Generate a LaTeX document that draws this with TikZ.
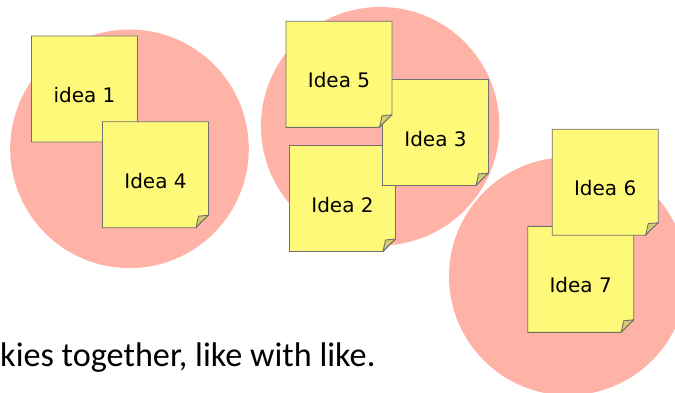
\documentclass[tikz,border=0pt]{standalone}
\usepackage{fontspec}
\setmainfont{DejaVu Sans}
\newfontfamily\capfont{Carlito}
\usetikzlibrary{calc}
\definecolor{blob}{RGB}{255,179,167}
\definecolor{notefill}{RGB}{255,249,122}
\definecolor{noteline}{RGB}{112,112,112}
\definecolor{foldfill}{RGB}{212,206,106}
\tikzset{
  group/.style={circle, fill=blob, draw=none, inner sep=0pt, outer sep=0pt},
  notebody/.style={fill=notefill, draw=noteline, line width=0.9pt, line join=miter},
  notefold/.style={fill=foldfill, draw=noteline, line width=0.9pt, line join=round},
  notetext/.style={inner sep=0pt, font=\fontsize{20}{24}\selectfont, anchor=base},
  caption/.style={inner sep=0pt, anchor=base west, font=\capfont\fontsize{34.2}{41}\selectfont, text=black}
}
\newcommand\sticky[4]{% name, cx, cy, text
  \path[notebody] (#2-53,#3+53) -- (#2+53,#3+53) -- (#2+53,#3-40.5)
     .. controls (#2+48,#3-45) and (#2+44,#3-49) .. (#2+40.5,#3-53) -- (#2-53,#3-53) -- cycle;
  \path[notefold] (#2+40.5,#3-53) .. controls (#2+41.5,#3-48) .. (#2+43,#3-41.5)
     .. controls (#2+48,#3-41) .. (#2+53,#3-40.5)
     .. controls (#2+48,#3-45) and (#2+44,#3-49) .. (#2+40.5,#3-53) -- cycle;
  \node[notetext] (#1) at (#2,#3-13.5) {#4};
}
\begin{document}
\begin{tikzpicture}[x=1pt,y=1pt]
  \useasboundingbox (0,0) rectangle (675,392);
  \clip (0,0) rectangle (675,392);
  \node[group, minimum size=238.6pt] (g1) at (129.5,243.2) {};
  \node[group, minimum size=238.5pt] (g2) at (380.2,265.8) {};
  \node[group, minimum size=238pt] (g3) at (568,115.7) {};
  \sticky{i1}{84.5}{303}{idea 1}
  \sticky{i4}{155.5}{217.3}{Idea 4}
  \sticky{i2}{342.5}{193.5}{Idea 2}
  \sticky{i3}{435.5}{259.5}{Idea 3}
  \sticky{i5}{339}{317.7}{Idea 5}
  \sticky{i7}{580.7}{112.7}{Idea 7}
  \sticky{i6}{605.2}{209.8}{Idea 6}
  \node[caption] (cap) at (0,26) {kies together, like with like.};
\end{tikzpicture}
\end{document}
